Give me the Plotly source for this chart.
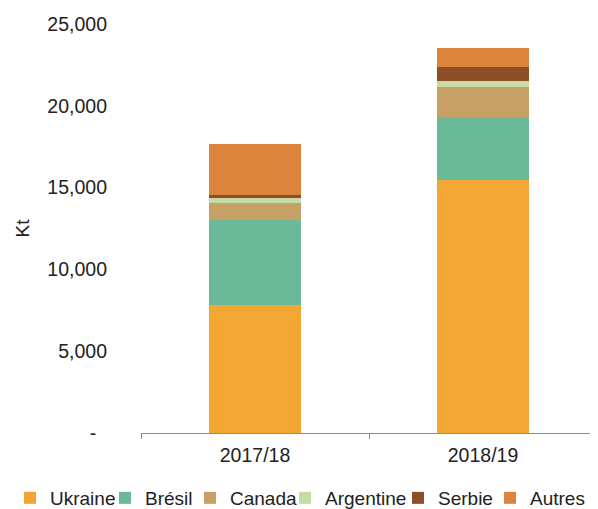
import plotly.graph_objects as go

years = ["2017/18", "2018/19"]
series_names = ["Ukraine", "Brésil", "Canada", "Argentine", "Serbie", "Autres"]
ukraine = [7850, 15450]
bresil = [5200, 3870]
canada = [980, 1800]
argentine = [390, 400]
serbie = [100, 860]
autres = [3170, 1130]
colors = ["#F2A735", "#6AB998", "#C7A066", "#C5DCA5", "#8E4F27", "#DD843C"]

y_tickvals = [0, 5000, 10000, 15000, 20000, 25000]
y_ticktext = ["-\u00a0\u00a0", "5,000", "10,000", "15,000", "20,000", "25,000"]

values = [ukraine, bresil, canada, argentine, serbie, autres]

W, H = 590, 501  # page adds an 8px body margin
# left edge of each legend entry, in figure pixels
legend_left_px = [2, 97, 182, 277, 390, 482]

fig = go.Figure()
legend_layout = {}
for i, (name, vals, col) in enumerate(zip(series_names, values, colors)):
    lg = "legend" if i == 0 else f"legend{i + 1}"
    fig.add_trace(go.Bar(x=years, y=vals, name=name, legend=lg,
                         marker=dict(color=col, line=dict(width=0))))
    legend_layout[lg] = dict(
        orientation="h",
        xref="container",
        yref="container",
        x=legend_left_px[i] / W,
        xanchor="left",
        y=1 - 490 / H,
        yanchor="middle",
        font=dict(size=19, color="#222222"),
        itemwidth=30,
        borderwidth=0,
        bgcolor="rgba(0,0,0,0)",
    )

font_family = "Liberation Sans, Arial, sans-serif"
fig.update_layout(
    barmode="stack",
    bargap=0.6,
    width=W,
    height=H,
    margin=dict(l=133, r=1, t=16, b=76, autoexpand=False),
    paper_bgcolor="white",
    plot_bgcolor="white",
    font=dict(family=font_family, size=17, color="#222222"),
    showlegend=True,
    xaxis=dict(
        automargin=False,
        showline=True,
        linecolor="#8c8c8c",
        linewidth=1,
        ticks="outside",
        tickson="boundaries",
        ticklen=5,
        tickcolor="#8c8c8c",
        tickfont=dict(size=19.5, color="#222222"),
        ticklabelstandoff=5,
        showgrid=False,
        zeroline=False,
    ),
    yaxis=dict(
        automargin=False,
        range=[0, 25000],
        tickvals=y_tickvals,
        ticktext=y_ticktext,
        tickfont=dict(size=19.5, color="#222222"),
        showgrid=False,
        zeroline=False,
        showline=False,
        ticks="",
        ticklabelstandoff=33,
        title=dict(text="Kt", font=dict(size=19, color="#222222"), standoff=12),
    ),
)
fig.update_layout(**legend_layout)

fig.write_html("out.html")
